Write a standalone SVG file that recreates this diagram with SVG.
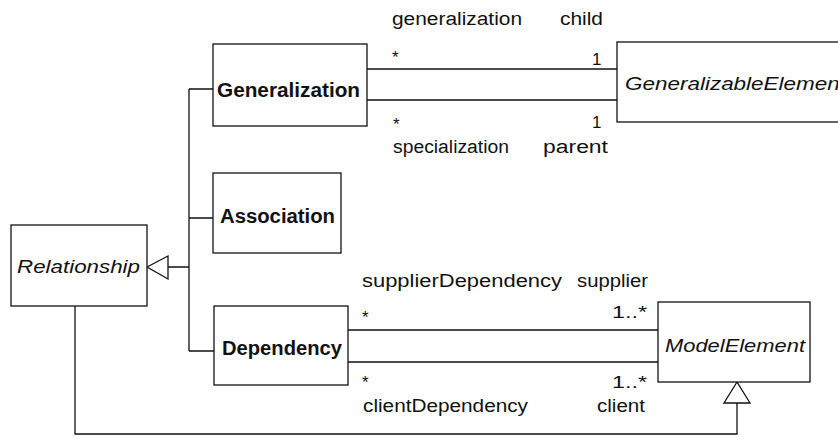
<svg xmlns="http://www.w3.org/2000/svg" width="838" height="441" viewBox="0 0 838 441">
  <defs>
    <style>
      .box { fill: #fff; stroke: #111; stroke-width: 1.3; }
      .line { fill: none; stroke: #111; stroke-width: 1.3; }
      .tri { fill: #fff; stroke: #111; stroke-width: 1.3; }
      text { font-family: "Liberation Sans", Arial, sans-serif; fill: #111; }
      .name { font-size: 20px; font-weight: bold; }
      .abstract { font-size: 18px; font-style: italic; }
      .role { font-size: 18px; }
      .mult { font-size: 17px; }
    </style>
  </defs>
  <rect width="838" height="441" fill="#fff"/>

  <!-- connectors -->
  <g id="connectors">
    <!-- generalization tree to Relationship -->
    <path class="line" d="M189 89 V351 M189 89 H213 M189 218 H213 M189 351 H214 M168 267 H189"/>
    <polygon class="tri" points="147,267 168,256 168,279"/>
    <!-- Relationship to ModelElement -->
    <path class="line" d="M75 306 V434 H737 V403"/>
    <polygon class="tri" points="737,382 724,403 750,403"/>
    <!-- Generalization associations -->
    <path class="line" d="M367 69 H617 M367 100 H617"/>
    <!-- Dependency associations -->
    <path class="line" d="M348 330 H658 M348 362 H658"/>

    <text class="role" x="392" y="25" textLength="130" lengthAdjust="spacingAndGlyphs">generalization</text>
    <text class="role" x="560" y="25" textLength="43" lengthAdjust="spacingAndGlyphs">child</text>
    <text class="mult" x="392" y="63">*</text>
    <text class="mult" x="592" y="65">1</text>
    <text class="mult" x="393" y="130">*</text>
    <text class="mult" x="592" y="128">1</text>
    <text class="role" x="393" y="153" textLength="116" lengthAdjust="spacingAndGlyphs">specialization</text>
    <text class="role" x="543" y="153" textLength="65" lengthAdjust="spacingAndGlyphs">parent</text>

    <text class="role" x="362" y="287" textLength="200" lengthAdjust="spacingAndGlyphs">supplierDependency</text>
    <text class="role" x="577" y="287" textLength="71" lengthAdjust="spacingAndGlyphs">supplier</text>
    <text class="mult" x="362" y="323">*</text>
    <text class="mult" x="612" y="318" textLength="35" lengthAdjust="spacingAndGlyphs">1..*</text>
    <text class="mult" x="362" y="388">*</text>
    <text class="mult" x="612" y="388" textLength="35" lengthAdjust="spacingAndGlyphs">1..*</text>
    <text class="role" x="363" y="412" textLength="165" lengthAdjust="spacingAndGlyphs">clientDependency</text>
    <text class="role" x="597" y="412" textLength="48" lengthAdjust="spacingAndGlyphs">client</text>
  </g>

  <g id="relationship">
    <rect class="box" x="11" y="225" width="136" height="81"/>
    <text class="abstract" x="17" y="273" textLength="123" lengthAdjust="spacingAndGlyphs">Relationship</text>
  </g>

  <g id="generalization">
    <rect class="box" x="213" y="44" width="154" height="82"/>
    <text class="name" x="217" y="97" textLength="143" lengthAdjust="spacingAndGlyphs">Generalization</text>
  </g>

  <g id="association">
    <rect class="box" x="213" y="173" width="128" height="80"/>
    <text class="name" x="220" y="223" textLength="115" lengthAdjust="spacingAndGlyphs">Association</text>
  </g>

  <g id="dependency">
    <rect class="box" x="214" y="306" width="134" height="79"/>
    <text class="name" x="222" y="355" textLength="120" lengthAdjust="spacingAndGlyphs">Dependency</text>
  </g>

  <g id="generalizable-element">
    <rect class="box" x="617" y="42" width="240" height="80"/>
    <text class="abstract" x="625" y="90" textLength="221" lengthAdjust="spacingAndGlyphs">GeneralizableElement</text>
  </g>

  <g id="model-element">
    <rect class="box" x="658" y="302" width="152" height="80"/>
    <text class="abstract" x="665" y="352" textLength="140" lengthAdjust="spacingAndGlyphs">ModelElement</text>
  </g>
</svg>
